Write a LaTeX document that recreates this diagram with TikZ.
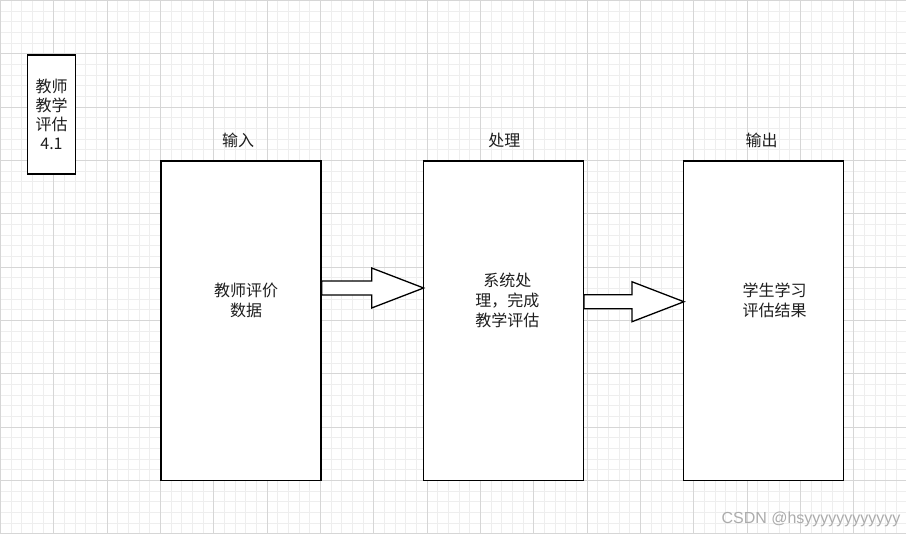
\documentclass[tikz,border=0pt]{standalone}
\usepackage{fontspec}
\setmainfont{Noto Sans CJK SC}
\newfontfamily\markfont{Liberation Sans}
\usetikzlibrary{positioning,calc}
\definecolor{gridminor}{RGB}{238,238,238}
\definecolor{gridmajor}{RGB}{214,214,214}
\definecolor{marktext}{RGB}{172,172,172}
\definecolor{inktext}{RGB}{30,30,30}
\tikzset{
    % Stage boxes (input / process / output)
    stagebox/.style={
        draw=black,
        fill=white,
        line width=1.3pt,
        minimum width=160pt,
        minimum height=319.5pt,
        inner sep=0pt
    },
    % Small id box at the top left
    idbox/.style={
        draw=black,
        fill=white,
        line width=1.3pt,
        minimum width=48pt,
        minimum height=119pt,
        inner sep=0pt,
        align=center,
        text=inktext,
        font=\fontsize{16}{19}\selectfont
    },
    % Text inside the boxes
    boxtext/.style={
        align=center,
        text=inktext,
        font=\fontsize{16}{20}\selectfont
    },
    % Labels above the boxes
    stagelabel/.style={
        text=inktext,
        font=\fontsize{16}{20}\selectfont
    },
    % Block arrows
    flowarrow/.style={
        draw=black,
        fill=white,
        line width=1.3pt,
        line join=miter
    },
    % Grid lines
    minorline/.style={gridminor, line width=1pt},
    majorline/.style={gridmajor, line width=1pt}
}

% block arrow from #1 to #2 (same height)
\newcommand{\blockarrow}[2]{%
  \draw[flowarrow] let \p1=(#1), \p2=(#2) in
    (\x1,{\y1+7pt}) -- ({\x2-52pt},{\y1+7pt}) -- ({\x2-52pt},{\y1+20pt})
    -- (\x2,\y1) -- ({\x2-52pt},{\y1-20pt}) -- ({\x2-52pt},{\y1-7pt})
    -- (\x1,{\y1-7pt}) -- cycle;}

\begin{document}
\begin{tikzpicture}[x=1pt,y=-1pt]

\useasboundingbox (0,0) rectangle (906,534);
\fill[white] (0,0) rectangle (906,534);

% === GRID ===
\foreach \i in {0,...,85} {
    \pgfmathsetmacro\gx{round(\i*10.6667)+0.5}
    \draw[minorline] (\gx,0) -- (\gx,534);
}
\foreach \i in {0,...,50} {
    \pgfmathsetmacro\gy{round(\i*10.6667)+0.5}
    \draw[minorline] (0,\gy) -- (906,\gy);
}
\foreach \i in {0,...,16} {
    \pgfmathsetmacro\gx{round(\i*53.3333)+0.5}
    \draw[majorline] (\gx,0) -- (\gx,534);
}
\foreach \i in {0,...,10} {
    \pgfmathsetmacro\gy{round(\i*53.3333)+0.5}
    \draw[majorline] (0,\gy) -- (906,\gy);
}

% === ID BOX ===
\node[idbox] (idcard) at (51.5,114.5) {教师\\教学\\评估\\4.1};

% === STAGES ===
\node[stagebox] (input) at (241,320.75) {};
\node[stagebox, right=101pt of input] (process) {};
\node[stagebox, right=99pt of process] (output) {};

% Labels above
\node[stagelabel] (inputlabel) at ($(input.north)+(-3,-20)$) {输入};
\node[stagelabel] (processlabel) at ($(process.north)+(1,-20)$) {处理};
\node[stagelabel] (outputlabel) at ($(output.north)+(-2,-20)$) {输出};

% Texts inside
\node[boxtext] (inputtext) at ($(input.center)+(5,-20)$) {教师评价\\数据};
\node[boxtext] (processtext) at ($(process.center)+(4,-20)$) {系统处\\理，完成\\教学评估};
\node[boxtext] (outputtext) at ($(output.center)+(11,-20)$) {学生学习\\评估结果};

% === ARROWS ===
\path (input.east) ++(0,-32.75) coordinate (a1s);
\path (process.west) ++(1,-32.75) coordinate (a1e);
\path (process.east) ++(0,-19) coordinate (a2s);
\path (output.west) ++(1,-19) coordinate (a2e);
\blockarrow{a1s}{a1e}
\blockarrow{a2s}{a2e}

% Watermark
\node[anchor=east, text=marktext, font=\markfont\fontsize{16}{18}\selectfont] (mark) at (904,519) {CSDN @hsyyyyyyyyyyyy};

\end{tikzpicture}
\end{document}
